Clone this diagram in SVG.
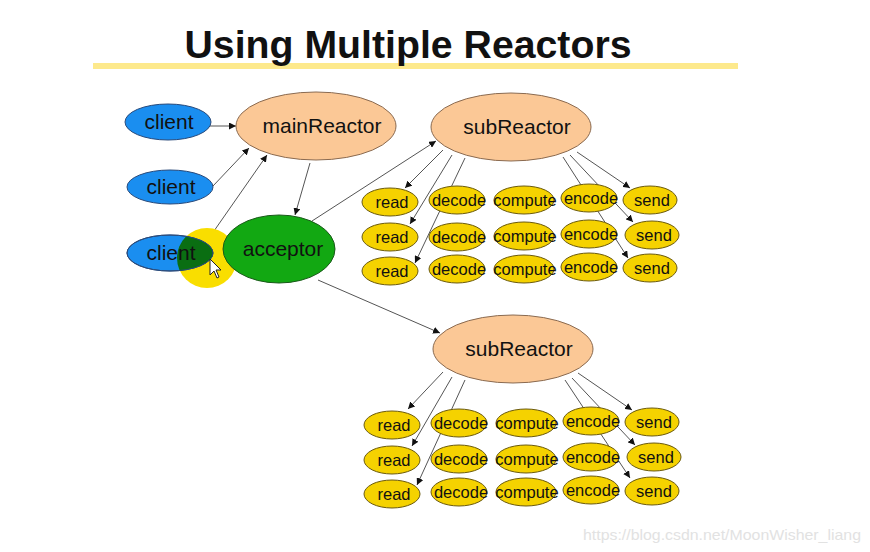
<svg xmlns="http://www.w3.org/2000/svg" width="870" height="552" viewBox="0 0 870 552">
<style>
.big{font-family:"Liberation Sans",Arial,sans-serif;font-size:21px;fill:#111;text-anchor:middle}
.sm{font-family:"Liberation Sans",Arial,sans-serif;font-size:16.5px;fill:#111;text-anchor:middle}
.cl{fill:#1a8ef0;stroke:#2a4a7a;stroke-width:1}
.rc{fill:#fbc896;stroke:#8a6a50;stroke-width:1}
.ac{fill:#12a812;stroke:#1a5a1a;stroke-width:1}
.y{fill:#f5d200;stroke:#6a5a10;stroke-width:1}
.e{stroke:#555;stroke-width:1;fill:none;marker-end:url(#ah)}
</style>
<defs>
<marker id="ah" viewBox="0 0 10 10" refX="10" refY="5" markerWidth="7" markerHeight="7" orient="auto" markerUnits="userSpaceOnUse">
<path d="M0,0 L10,5 L0,10 z" fill="#111"/>
</marker>
<clipPath id="c3"><ellipse cx="170" cy="253" rx="43" ry="18"/></clipPath>
</defs>
<rect width="870" height="552" fill="#ffffff"/>
<g id="title">
<rect x="93" y="63" width="645" height="6" fill="#fde98c"/>
<text x="408" y="58" font-family="Liberation Sans,Arial,sans-serif" font-weight="bold" font-size="38" text-anchor="middle" textLength="447" lengthAdjust="spacingAndGlyphs" fill="#111">Using Multiple Reactors</text>
</g>
<g id="connectors">
<line class="e" x1="210" y1="126" x2="236" y2="126"/>
<line class="e" x1="213" y1="186" x2="249" y2="148"/>
<line class="e" x1="207" y1="241" x2="267" y2="155"/>
<line class="e" x1="310" y1="163" x2="295" y2="215"/>
<line class="e" x1="312" y1="221" x2="436" y2="141"/>
<line class="e" x1="318" y1="280" x2="440" y2="333"/>
<line class="e" x1="443" y1="150" x2="405" y2="188"/>
<line class="e" x1="452" y1="155" x2="410" y2="224"/>
<line class="e" x1="465" y1="158" x2="415" y2="263"/>
<line class="e" x1="577" y1="152" x2="630" y2="188"/>
<line class="e" x1="570" y1="155" x2="633" y2="222"/>
<line class="e" x1="563" y1="157" x2="628" y2="258"/>
<line class="e" x1="443" y1="372" x2="408" y2="409"/>
<line class="e" x1="452" y1="377" x2="412" y2="446"/>
<line class="e" x1="465" y1="380" x2="417" y2="485"/>
<line class="e" x1="578" y1="373" x2="632" y2="410"/>
<line class="e" x1="572" y1="378" x2="635" y2="445"/>
<line class="e" x1="565" y1="380" x2="630" y2="478"/>
</g>
<g id="client1"><ellipse class="cl" cx="168" cy="122" rx="43" ry="18"/><text class="big" x="169" y="129">client</text></g>
<g id="client2"><ellipse class="cl" cx="170" cy="187" rx="43" ry="17"/><text class="big" x="171" y="194">client</text></g>
<g id="highlight"><circle cx="207" cy="258" r="30" fill="#f9de00"/></g>
<g id="client3">
<ellipse class="cl" cx="170" cy="253" rx="43" ry="18"/>
<circle cx="207" cy="258" r="30" fill="#0a6e12" clip-path="url(#c3)"/>
<ellipse cx="170" cy="253" rx="43" ry="18" fill="none" stroke="#2a4a7a" stroke-width="1"/>
<text class="big" x="171" y="260">client</text>
</g>
<g id="mainReactor"><ellipse class="rc" cx="316" cy="126" rx="80" ry="34"/><text class="big" x="322" y="133">mainReactor</text></g>
<g id="acceptor"><ellipse class="ac" cx="279" cy="249" rx="56" ry="34"/><text class="big" x="283" y="256">acceptor</text></g>
<g id="cursor"><path d="M210,259 L210,275 L214,271 L217,278 L219,277 L216,270 L221,270 Z" fill="#fff" stroke="#222" stroke-width="1"/></g>
<g id="subReactor1"><ellipse class="rc" cx="511" cy="127" rx="80" ry="34"/><text class="big" x="517" y="134">subReactor</text></g>
<g id="subReactor2"><ellipse class="rc" cx="513" cy="349" rx="80" ry="34"/><text class="big" x="519" y="356">subReactor</text></g>
<g id="s1r1c1"><ellipse class="y" cx="390" cy="202" rx="28" ry="14"/><text class="sm" x="392" y="208">read</text></g>
<g id="s1r1c2"><ellipse class="y" cx="457" cy="200" rx="28" ry="14"/><text class="sm" x="459" y="206">decode</text></g>
<g id="s1r1c3"><ellipse class="y" cx="524" cy="200" rx="30" ry="14"/><text class="sm" x="525" y="206">compute</text></g>
<g id="s1r1c4"><ellipse class="y" cx="589" cy="198" rx="28" ry="14"/><text class="sm" x="591" y="204">encode</text></g>
<g id="s1r1c5"><ellipse class="y" cx="650" cy="200" rx="27" ry="14"/><text class="sm" x="652" y="206">send</text></g>
<g id="s1r2c1"><ellipse class="y" cx="390" cy="237" rx="28" ry="14"/><text class="sm" x="392" y="243">read</text></g>
<g id="s1r2c2"><ellipse class="y" cx="457" cy="237" rx="28" ry="14"/><text class="sm" x="459" y="243">decode</text></g>
<g id="s1r2c3"><ellipse class="y" cx="524" cy="236" rx="30" ry="14"/><text class="sm" x="525" y="242">compute</text></g>
<g id="s1r2c4"><ellipse class="y" cx="589" cy="234" rx="28" ry="14"/><text class="sm" x="591" y="240">encode</text></g>
<g id="s1r2c5"><ellipse class="y" cx="652" cy="235" rx="27" ry="14"/><text class="sm" x="654" y="241">send</text></g>
<g id="s1r3c1"><ellipse class="y" cx="390" cy="271" rx="28" ry="14"/><text class="sm" x="392" y="277">read</text></g>
<g id="s1r3c2"><ellipse class="y" cx="457" cy="269" rx="28" ry="14"/><text class="sm" x="459" y="275">decode</text></g>
<g id="s1r3c3"><ellipse class="y" cx="524" cy="269" rx="30" ry="14"/><text class="sm" x="525" y="275">compute</text></g>
<g id="s1r3c4"><ellipse class="y" cx="589" cy="267" rx="28" ry="14"/><text class="sm" x="591" y="273">encode</text></g>
<g id="s1r3c5"><ellipse class="y" cx="650" cy="268" rx="27" ry="14"/><text class="sm" x="652" y="274">send</text></g>
<g id="s2r1c1"><ellipse class="y" cx="392" cy="425" rx="28" ry="14"/><text class="sm" x="394" y="431">read</text></g>
<g id="s2r1c2"><ellipse class="y" cx="459" cy="423" rx="28" ry="14"/><text class="sm" x="461" y="429">decode</text></g>
<g id="s2r1c3"><ellipse class="y" cx="526" cy="423" rx="30" ry="14"/><text class="sm" x="527" y="429">compute</text></g>
<g id="s2r1c4"><ellipse class="y" cx="591" cy="421" rx="28" ry="14"/><text class="sm" x="593" y="427">encode</text></g>
<g id="s2r1c5"><ellipse class="y" cx="652" cy="422" rx="27" ry="14"/><text class="sm" x="654" y="428">send</text></g>
<g id="s2r2c1"><ellipse class="y" cx="392" cy="460" rx="28" ry="14"/><text class="sm" x="394" y="466">read</text></g>
<g id="s2r2c2"><ellipse class="y" cx="459" cy="459" rx="28" ry="14"/><text class="sm" x="461" y="465">decode</text></g>
<g id="s2r2c3"><ellipse class="y" cx="526" cy="459" rx="30" ry="14"/><text class="sm" x="527" y="465">compute</text></g>
<g id="s2r2c4"><ellipse class="y" cx="591" cy="457" rx="28" ry="14"/><text class="sm" x="593" y="463">encode</text></g>
<g id="s2r2c5"><ellipse class="y" cx="654" cy="457" rx="27" ry="14"/><text class="sm" x="656" y="463">send</text></g>
<g id="s2r3c1"><ellipse class="y" cx="392" cy="494" rx="28" ry="14"/><text class="sm" x="394" y="500">read</text></g>
<g id="s2r3c2"><ellipse class="y" cx="459" cy="492" rx="28" ry="14"/><text class="sm" x="461" y="498">decode</text></g>
<g id="s2r3c3"><ellipse class="y" cx="526" cy="492" rx="30" ry="14"/><text class="sm" x="527" y="498">compute</text></g>
<g id="s2r3c4"><ellipse class="y" cx="591" cy="490" rx="28" ry="14"/><text class="sm" x="593" y="496">encode</text></g>
<g id="s2r3c5"><ellipse class="y" cx="652" cy="491" rx="27" ry="14"/><text class="sm" x="654" y="497">send</text></g>
<text x="583" y="540" font-family="Liberation Sans,Arial,sans-serif" font-size="15" fill="#e2e2e2" textLength="278" lengthAdjust="spacingAndGlyphs">https://blog.csdn.net/MoonWisher_liang</text>
</svg>
